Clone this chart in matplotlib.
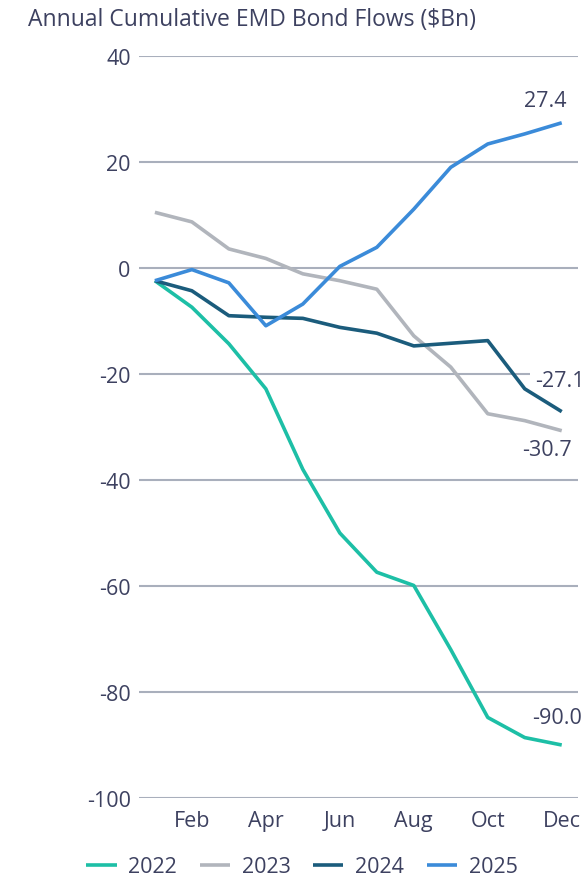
import matplotlib
matplotlib.use("Agg")
import matplotlib.pyplot as plt

plt.rcParams['font.family'] = ['Open Sans', 'DejaVu Sans']
plt.rcParams['axes.unicode_minus'] = False

# Cumulative flows by month, $Bn
months = ['Jan', 'Feb', 'Mar', 'Apr', 'May', 'Jun',
          'Jul', 'Aug', 'Sep', 'Oct', 'Nov', 'Dec']
flows_2022 = [-2.4, -7.4, -14.3, -22.8, -38.0, -50.0, -57.4, -59.9, -72.0, -84.8, -88.6, -90.0]
flows_2023 = [10.5, 8.7, 3.6, 1.8, -1.1, -2.4, -4.0, -12.8, -18.7, -27.5, -28.8, -30.7]
flows_2024 = [-2.4, -4.3, -9.0, -9.3, -9.5, -11.2, -12.3, -14.7, -14.2, -13.7, -22.8, -27.1]
flows_2025 = [-2.4, -0.3, -2.8, -10.9, -6.8, 0.3, 3.9, 11.1, 19.0, 23.4, 25.3, 27.4]

series = [('2022', flows_2022, '#1dbfa6'),
          ('2023', flows_2023, '#b1b5bc'),
          ('2024', flows_2024, '#1b5c7c'),
          ('2025', flows_2025, '#3b8bd9')]

text_col = '#3d4160'

fig = plt.figure(figsize=(5.88, 8.78), dpi=100)
ax = fig.add_axes([139 / 588, 1 - 799 / 878, (578 - 139) / 588, (799 - 57) / 878])

x = list(range(len(months)))
for name, vals, col in series:
    ax.plot(x, vals, color=col, lw=2.6, label=name, clip_on=False,
            solid_capstyle='butt', zorder=3)

ax.set_ylim(-100, 40)
ax.set_xlim(-0.43, 11.44)
ax.set_yticks(range(-100, 41, 20))
ax.set_xticks(x[1::2])
ax.set_xticklabels(months[1::2])
ax.tick_params(axis='both', length=0, labelsize=15.5, colors=text_col)
ax.tick_params(axis='y', pad=6)
ax.tick_params(axis='x', pad=9)
ax.yaxis.grid(True, color='#a9afbc', lw=1.5, zorder=0.5)
ax.set_axisbelow(True)
for s in ax.spines.values():
    s.set_visible(False)

# end-of-year values
ax.annotate('27.4', (11, flows_2025[-1]), xytext=(-12, 16), textcoords='offset points',
            ha='center', va='center', fontsize=15.5, color=text_col)
ax.annotate('-27.1', (11, flows_2024[-1]), xytext=(-19, 22.5), textcoords='offset points',
            ha='left', va='center', fontsize=15.5, color=text_col, annotation_clip=False,
            bbox=dict(boxstyle='square,pad=0.25', fc='white', ec='none'), zorder=2)
ax.annotate('-30.7', (11, flows_2023[-1]), xytext=(-10.5, -13.5), textcoords='offset points',
            ha='center', va='center', fontsize=15.5, color=text_col)
ax.annotate('-90.0', (11, flows_2022[-1]), xytext=(-3.5, 20), textcoords='offset points',
            ha='center', va='center', fontsize=15.5, color=text_col, annotation_clip=False)

fig.text(28 / 588, 1 - 20 / 878, 'Annual Cumulative EMD Bond Flows ($Bn)',
         ha='left', va='center', fontsize=16.5, color=text_col)

fig.legend(loc='center', bbox_to_anchor=(302 / 588, 1 - 868 / 878), ncol=4, frameon=False,
           fontsize=15.5, handlelength=1.4, handletextpad=0.55, columnspacing=1.05,
           labelcolor=text_col)

fig.savefig('out.png', dpi=100)
